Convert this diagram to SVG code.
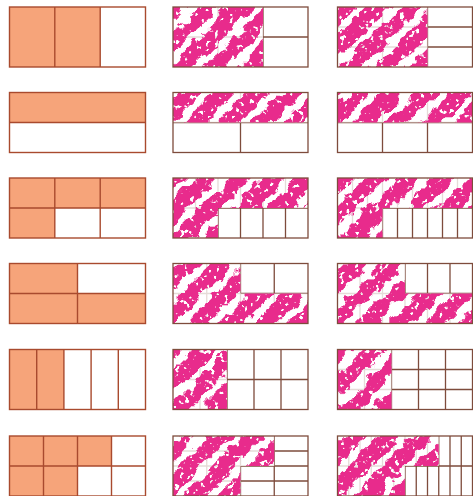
<svg xmlns="http://www.w3.org/2000/svg" width="473" height="496" viewBox="0 0 473 496">
<style>
.or{fill:#F6A47A;stroke:none}
.g1{fill:none;stroke:#A94A2E;stroke-width:1.4}
.g2{fill:none;stroke:#7E4C3C;stroke-width:1.3}
.tex{fill:url(#stripes);filter:url(#blotch)}
.wu{fill:#fff;fill-opacity:0.8}
</style>
<defs>
<pattern id="stripes" patternUnits="userSpaceOnUse" width="24" height="24" patternTransform="rotate(45)">
<rect x="0" y="0" width="16" height="24" fill="#E82B8C"/>
</pattern>
<filter id="blotch" color-interpolation-filters="sRGB" x="-5%" y="-5%" width="110%" height="110%">
<feTurbulence type="fractalNoise" baseFrequency="0.07" numOctaves="3" seed="4" result="n"/>
<feDisplacementMap in="SourceGraphic" in2="n" scale="16" xChannelSelector="R" yChannelSelector="G" result="d"/>
<feTurbulence type="fractalNoise" baseFrequency="0.2" numOctaves="2" seed="9" result="n2"/>
<feColorMatrix in="n2" type="matrix" values="0 0 0 0 1  0 0 0 0 1  0 0 0 0 1  14 0 0 0 -8.8" result="spots"/>
<feComposite in="d" in2="spots" operator="out"/>
</filter>
<clipPath id="p12"><rect x="173" y="7" width="90" height="60"/></clipPath>
<clipPath id="p13"><rect x="337.5" y="7" width="90" height="60"/></clipPath>
<clipPath id="p22"><rect x="173" y="92.5" width="135" height="30"/></clipPath>
<clipPath id="p23"><rect x="337.5" y="92.5" width="135" height="30"/></clipPath>
<clipPath id="p32"><polygon points="173,178 308,178 308,208 218,208 218,238 173,238"/></clipPath>
<clipPath id="p33"><polygon points="337.5,178 472.5,178 472.5,208 382.5,208 382.5,238 337.5,238"/></clipPath>
<clipPath id="p42"><polygon points="173,263.5 240.5,263.5 240.5,293.5 308,293.5 308,323.5 173,323.5"/></clipPath>
<clipPath id="p43"><polygon points="337.5,263.5 405,263.5 405,293.5 472.5,293.5 472.5,323.5 337.5,323.5"/></clipPath>
<clipPath id="p52"><rect x="173" y="349.5" width="54" height="60"/></clipPath>
<clipPath id="p53"><rect x="337.5" y="349.5" width="54" height="60"/></clipPath>
<clipPath id="p62"><polygon points="173,436 274.25,436 274.25,466 240.5,466 240.5,496 173,496"/></clipPath>
<clipPath id="p63"><polygon points="337.5,436 438.75,436 438.75,466 405,466 405,496 337.5,496"/></clipPath>
</defs>
<rect x="0" y="0" width="473" height="496" fill="#fff"/>

<!-- Row 1 -->
<g id="r1c1">
<rect class="or" x="9.5" y="7" width="90.7" height="60"/>
<rect class="g1" x="9.5" y="7" width="136" height="60"/>
<path class="g1" d="M54.8 7V67M100.2 7V67"/>
</g>
<g id="r1c2">
<path class="g2" d="M218 7V67M263 7V67M173 37H308"/>
<rect class="wu" x="173" y="7" width="90" height="60"/>
<rect class="tex" x="165" y="0" width="110" height="75" clip-path="url(#p12)"/>
<rect class="g2" x="173" y="7" width="135" height="60"/>
</g>
<g id="r1c3">
<path class="g2" d="M382.5 7V67M427.5 7V67M337.5 27H472.5M337.5 47H472.5"/>
<rect class="wu" x="337.5" y="7" width="90" height="60"/>
<rect class="tex" x="330" y="0" width="110" height="75" clip-path="url(#p13)"/>
<rect class="g2" x="337.5" y="7" width="135" height="60"/>
</g>

<!-- Row 2 -->
<g id="r2c1">
<rect class="or" x="9.5" y="92.5" width="136" height="30"/>
<rect class="g1" x="9.5" y="92.5" width="136" height="60"/>
<path class="g1" d="M9.5 122.5H145.5"/>
</g>
<g id="r2c2">
<path class="g2" d="M240.5 92.5V152.5M173 122.5H308"/>
<rect class="wu" x="173" y="92.5" width="135" height="30"/>
<rect class="tex" x="165" y="85" width="150" height="45" clip-path="url(#p22)"/>
<rect class="g2" x="173" y="92.5" width="135" height="60"/>
</g>
<g id="r2c3">
<path class="g2" d="M382.5 92.5V152.5M427.5 92.5V152.5M337.5 122.5H472.5"/>
<rect class="wu" x="337.5" y="92.5" width="135" height="30"/>
<rect class="tex" x="330" y="85" width="150" height="45" clip-path="url(#p23)"/>
<rect class="g2" x="337.5" y="92.5" width="135" height="60"/>
</g>

<!-- Row 3 -->
<g id="r3c1">
<polygon class="or" points="9.5,178 145.5,178 145.5,208 54.8,208 54.8,238 9.5,238"/>
<rect class="g1" x="9.5" y="178" width="136" height="60"/>
<path class="g1" d="M54.8 178V238M100.2 178V238M9.5 208H145.5"/>
</g>
<g id="r3c2">
<path class="g2" d="M195.5 178V238M218 178V238M240.5 178V238M263 178V238M285.5 178V238M173 208H308"/>
<polygon class="wu" points="173,178 308,178 308,208 218,208 218,238 173,238"/>
<rect class="tex" x="165" y="170" width="150" height="75" clip-path="url(#p32)"/>
<rect class="g2" x="173" y="178" width="135" height="60"/>
</g>
<g id="r3c3">
<path class="g2" d="M352.5 178V238M367.5 178V238M382.5 178V238M397.5 178V238M412.5 178V238M427.5 178V238M442.5 178V238M457.5 178V238M337.5 208H472.5"/>
<polygon class="wu" points="337.5,178 472.5,178 472.5,208 382.5,208 382.5,238 337.5,238"/>
<rect class="tex" x="330" y="170" width="150" height="75" clip-path="url(#p33)"/>
<rect class="g2" x="337.5" y="178" width="135" height="60"/>
</g>

<!-- Row 4 -->
<g id="r4c1">
<polygon class="or" points="9.5,263.5 77.5,263.5 77.5,293.5 145.5,293.5 145.5,323.5 9.5,323.5"/>
<rect class="g1" x="9.5" y="263.5" width="136" height="60"/>
<path class="g1" d="M77.5 263.5V323.5M9.5 293.5H145.5"/>
</g>
<g id="r4c2">
<path class="g2" d="M206.75 263.5V323.5M240.5 263.5V323.5M274.25 263.5V323.5M173 293.5H308"/>
<polygon class="wu" points="173,263.5 240.5,263.5 240.5,293.5 308,293.5 308,323.5 173,323.5"/>
<rect class="tex" x="165" y="255" width="150" height="75" clip-path="url(#p42)"/>
<rect class="g2" x="173" y="263.5" width="135" height="60"/>
</g>
<g id="r4c3">
<path class="g2" d="M360 263.5V323.5M382.5 263.5V323.5M405 263.5V323.5M427.5 263.5V323.5M450 263.5V323.5M337.5 293.5H472.5"/>
<polygon class="wu" points="337.5,263.5 405,263.5 405,293.5 472.5,293.5 472.5,323.5 337.5,323.5"/>
<rect class="tex" x="330" y="255" width="150" height="75" clip-path="url(#p43)"/>
<rect class="g2" x="337.5" y="263.5" width="135" height="60"/>
</g>

<!-- Row 5 -->
<g id="r5c1">
<rect class="or" x="9.5" y="349.5" width="54.4" height="60"/>
<rect class="g1" x="9.5" y="349.5" width="136" height="60"/>
<path class="g1" d="M36.7 349.5V409.5M63.9 349.5V409.5M91.1 349.5V409.5M118.3 349.5V409.5"/>
</g>
<g id="r5c2">
<path class="g2" d="M200 349.5V409.5M227 349.5V409.5M254 349.5V409.5M281 349.5V409.5M173 379.5H308"/>
<rect class="wu" x="173" y="349.5" width="54" height="60"/>
<rect class="tex" x="165" y="342" width="70" height="75" clip-path="url(#p52)"/>
<rect class="g2" x="173" y="349.5" width="135" height="60"/>
</g>
<g id="r5c3">
<path class="g2" d="M364.5 349.5V409.5M391.5 349.5V409.5M418.5 349.5V409.5M445.5 349.5V409.5M337.5 369.5H472.5M337.5 389.5H472.5"/>
<rect class="wu" x="337.5" y="349.5" width="54" height="60"/>
<rect class="tex" x="330" y="342" width="70" height="75" clip-path="url(#p53)"/>
<rect class="g2" x="337.5" y="349.5" width="135" height="60"/>
</g>

<!-- Row 6 -->
<g id="r6c1">
<polygon class="or" points="9.5,436 111.5,436 111.5,466 77.5,466 77.5,496 9.5,496"/>
<rect class="g1" x="9.5" y="436" width="136" height="60"/>
<path class="g1" d="M43.5 436V496M77.5 436V496M111.5 436V496M9.5 466H145.5"/>
</g>
<g id="r6c2">
<path class="g2" d="M206.75 436V496M240.5 436V496M274.25 436V496M173 451H308M173 466H308M173 481H308"/>
<polygon class="wu" points="173,436 274.25,436 274.25,466 240.5,466 240.5,496 173,496"/>
<rect class="tex" x="165" y="428" width="120" height="75" clip-path="url(#p62)"/>
<rect class="g2" x="173" y="436" width="135" height="60"/>
</g>
<g id="r6c3">
<path class="g2" d="M348.75 436V496M360 436V496M371.25 436V496M382.5 436V496M393.75 436V496M405 436V496M416.25 436V496M427.5 436V496M438.75 436V496M450 436V496M461.25 436V496M337.5 466H472.5"/>
<polygon class="wu" points="337.5,436 438.75,436 438.75,466 405,466 405,496 337.5,496"/>
<rect class="tex" x="330" y="428" width="120" height="75" clip-path="url(#p63)"/>
<rect class="g2" x="337.5" y="436" width="135" height="60"/>
</g>
</svg>
